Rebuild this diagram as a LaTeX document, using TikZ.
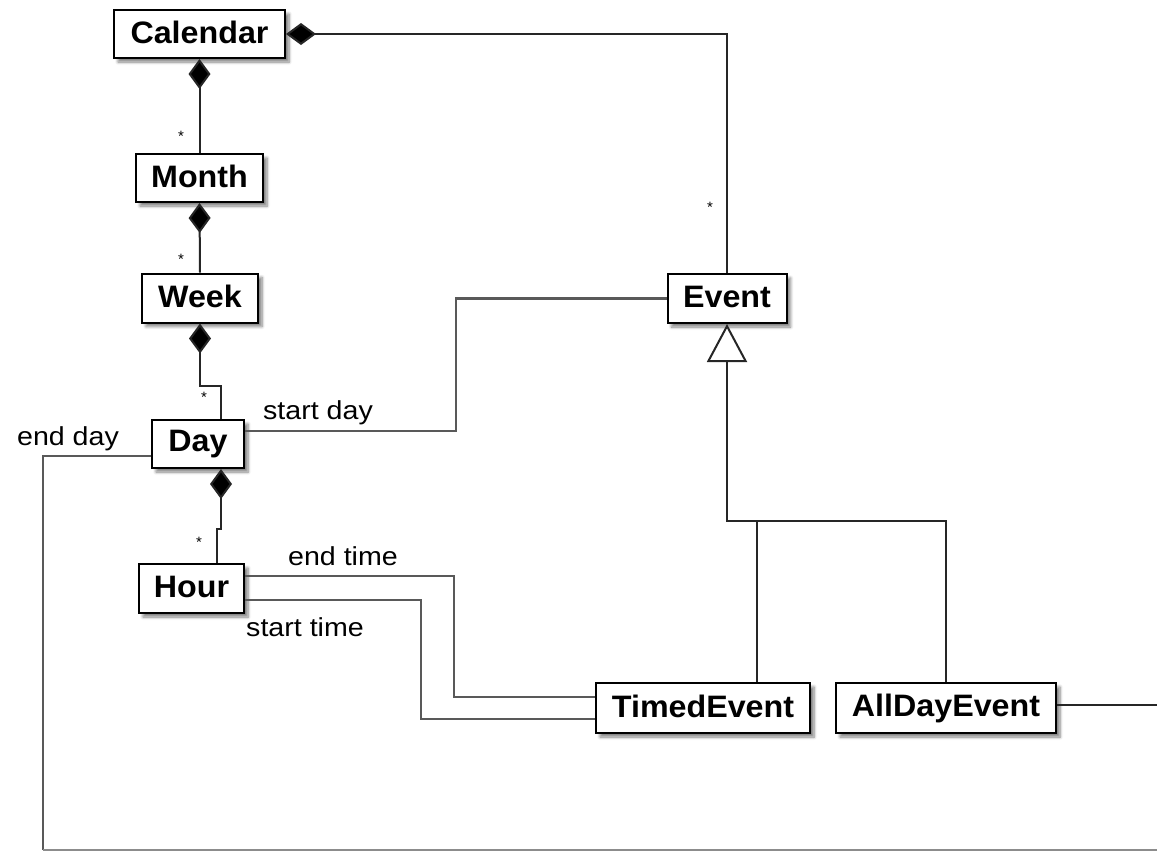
\documentclass[tikz,border=0pt]{standalone}
\usepackage{fontspec}
\setmainfont{Liberation Sans}
\newfontfamily\labfont[FakeStretch=1.1]{Liberation Sans}
\newfontfamily\clsfont[FakeStretch=1.04]{Liberation Sans}
\usetikzlibrary{arrows.meta,shadows.blur}
\newcommand{\up}[1]{\raisebox{2.5pt}{#1}}
\tikzset{
  cls/.style={draw=black, line width=2pt, fill=white, inner sep=0pt,
    font=\clsfont\fontsize{31}{34}\selectfont\bfseries,
    blur shadow={shadow xshift=4pt, shadow yshift=-4pt, shadow blur steps=6, shadow blur radius=3pt, shadow opacity=50}},
  lbl/.style={inner sep=0pt, font=\labfont\fontsize{26}{28}\selectfont},
  mult/.style={inner sep=0pt, font=\fontsize{15}{16}\selectfont},
  conn/.style={line width=2pt, black!85},
  assoc/.style={line width=2.6pt, black!65},
  comp/.style={{Diamond[length=30pt,width=22pt,fill=black]}-},
  inh/.style={{Triangle[open,length=38pt,width=40pt,fill=white,line width=2pt]}-}
}
\begin{document}
\begin{tikzpicture}[x=1pt,y=-1pt]
\useasboundingbox (0,0) rectangle (1157,852);
% classes
\node[cls, minimum width=171pt, minimum height=48pt] (cal) at (199.5,34) {\up{Calendar}};
\node[cls, minimum width=127pt, minimum height=48pt] (month) at (199.5,178) {\up{Month}};
\node[cls, minimum width=116pt, minimum height=49pt] (week) at (200,298) {\up{Week}};
\node[cls, minimum width=92pt, minimum height=48pt] (day) at (198,444) {\up{Day}};
\node[cls, minimum width=105pt, minimum height=49pt] (hour) at (191.5,588.5) {\up{Hour}};
\node[cls, minimum width=119pt, minimum height=49pt] (event) at (727,298.5) {\up{Event}};
\node[cls, minimum width=214pt, minimum height=50pt] (timed) at (703,708) {\up{TimedEvent}};
\node[cls, minimum width=220pt, minimum height=50pt] (allday) at (946,708) {\up{AllDayEvent}};
% helper coordinates
\coordinate (j) at (727,521);
\coordinate (botleft) at (43,850);
\coordinate (botright) at (1157,850);
\coordinate (rightedge) at (1157,0);
% compositions
\draw[conn,comp] (cal.east) -| (event.north);
\draw[conn,comp] (cal.south) -- (month.north);
\draw[conn,comp] (month.south) -- (week.north);
\draw[conn,comp] (week.south) -- ++(0,62) -| ([xshift=23pt]day.north);
\draw[conn,comp] ([xshift=23pt]day.south) -- ++(0,60) -| ([xshift=25.5pt]hour.north);
% associations
\draw[assoc] ([yshift=13pt]day.east) -- ++(211,0) |- (event.west);
\draw[assoc] ([yshift=-12pt]day.west) -| (botleft);
\draw[line width=2pt, black!45] (botleft) -- (botright);
\draw[assoc] ([yshift=12.5pt]hour.east) -- ++(209,0) |- ([yshift=11pt]timed.west);
\draw[assoc] ([yshift=-11.5pt]hour.east) -- ++(176,0) |- ([yshift=-11pt]timed.west);
\draw[conn] ([yshift=3pt]allday.east) -- ([yshift=3pt]allday.east -| rightedge);
% inheritance
\draw[conn,inh] (event.south) -- (j) -| (allday.north);
\draw[conn] ([xshift=54pt]timed.north) -- ([xshift=54pt]timed.north |- j);
% multiplicities
\node[mult] (m1) at (181,136) {*};
\node[mult] (m2) at (181,259) {*};
\node[mult] (m3) at (204,397) {*};
\node[mult] (m4) at (199,542) {*};
\node[mult] (m5) at (710,207) {*};
% role labels
\node[lbl] (l1) at (318,413) {start day};
\node[lbl] (l2) at (68,439) {end day};
\node[lbl] (l3) at (343,556) {end time};
\node[lbl] (l4) at (305,627) {start time};
\end{tikzpicture}
\end{document}
